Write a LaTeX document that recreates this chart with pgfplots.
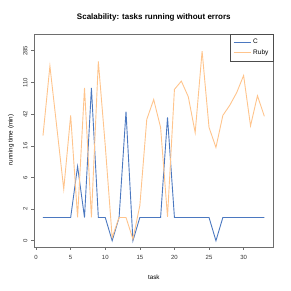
\documentclass[border=0pt]{standalone}
\usepackage{pgfplots}
\pgfplotsset{compat=1.18}
\usepackage{fontspec}
\setmainfont{Liberation Sans}
\definecolor{cblue}{HTML}{4B78C0}
\definecolor{rorange}{HTML}{FFC48C}
\definecolor{axgray}{HTML}{6E6E6E}
\begin{document}
\begin{tikzpicture}[x=1pt,y=1pt]
\useasboundingbox (0,0) rectangle (291,291);
\begin{axis}[at={(34pt,44pt)}, anchor=south west, scale only axis,
  width=239.7pt, height=213pt,
  xmin=-0.3, xmax=34.35,
  y coord trafo/.code={\pgfmathparse{ln(1+#1)/0.9428}},
  y coord inv trafo/.code={\pgfmathparse{exp(0.9428*#1)-1}},
  ymin=-0.17, ymax=471,
  xtick={0,5,10,15,20,25,30}, xticklabels={0,5,10,15,20,25,30},
  ytick={0,1.567,5.59,15.91,42.3,110.4,285.9},
  yticklabels={0,2,6,16,42,110,285},
  yticklabel style={rotate=90, anchor=south, xshift=0pt},
  xticklabel style={yshift=-2pt},
  tick pos=left, tick align=outside,
  major tick length=3pt,
  axis line style={axgray, line width=0.8pt},
  every tick/.style={axgray, line width=0.5pt},
  ticklabel style={font=\fontsize{6}{7}\selectfont, text=black!80},
  legend style={at={(1,1)}, anchor=north east, draw=black!70, line width=0.6pt,
    font=\fontsize{6.5}{7.5}\selectfont, inner xsep=3pt, inner ysep=3pt, row sep=0.5pt},
  legend image post style={line width=1pt},
  legend cell align=left,
]
\addplot[cblue, line width=0.9pt] coordinates {
(1,1)(2,1)(3,1)(4,1)(5,1)(6,8.15)(7,1)(8,94)(9,1)(10,1)(11,0)(12,1)(13,45.8)(14,0)
(15,1)(16,1)(17,1)(18,1)(19,38.5)(20,1)(21,1)(22,1)(23,1)(24,1)(25,1)(26,0)
(27,1)(28,1)(29,1)(30,1)(31,1)(32,1)(33,1)};
\addlegendentry{C}
\addplot[rorange, line width=0.9pt] coordinates {
(1,21.9)(2,181)(3,28.2)(4,3.65)(5,40.8)(6,1)(7,94)(8,1)(9,207)(10,16)(11,0.1)(12,1)
(13,1)(14,0.05)(15,1.85)(16,36)(17,66)(18,28.2)(19,1.04)(20,89.6)(21,115)(22,72)
(23,24)(24,282)(25,28.2)(26,15.1)(27,40.8)(28,55.5)(29,81.4)(30,136)(31,29.6)
(32,74)(33,39.7)};
\addlegendentry{Ruby}
\end{axis}
\node[font=\bfseries\fontsize{8}{9}\selectfont] at (153.8,274) {Scalability: tasks running without errors};
\node[font=\fontsize{6.3}{7}\selectfont] at (153.8,14) {task};
\node[font=\fontsize{6.3}{7}\selectfont, rotate=90] at (11,151) {running time (min)};
\end{tikzpicture}
\end{document}
